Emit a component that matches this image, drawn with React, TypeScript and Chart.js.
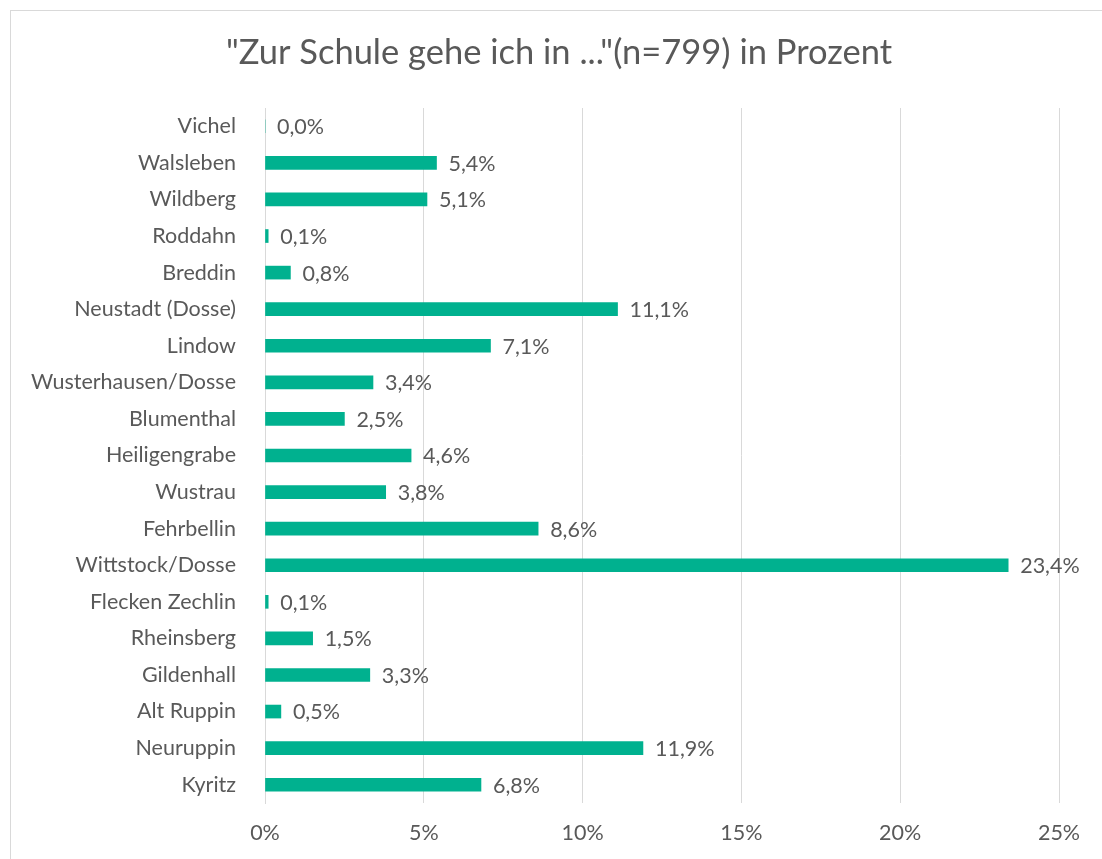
import React, { useEffect, useRef } from "react";
import { Chart, registerables } from "chart.js";

Chart.register(...registerables);

const TITLE = '"Zur Schule gehe ich in ..."(n=799) in Prozent';

const categories: string[] = [
  "Vichel",
  "Walsleben",
  "Wildberg",
  "Roddahn",
  "Breddin",
  "Neustadt (Dosse)",
  "Lindow",
  "Wusterhausen/Dosse",
  "Blumenthal",
  "Heiligengrabe",
  "Wustrau",
  "Fehrbellin",
  "Wittstock/Dosse",
  "Flecken Zechlin",
  "Rheinsberg",
  "Gildenhall",
  "Alt Ruppin",
  "Neuruppin",
  "Kyritz",
];

const values: number[] = [
  0.0, 5.4, 5.1, 0.1, 0.8, 11.1, 7.1, 3.4, 2.5, 4.6, 3.8, 8.6, 23.4, 0.1, 1.5, 3.3, 0.5, 11.9, 6.8,
];

const xTicks: number[] = [0, 5, 10, 15, 20, 25];

const FONT = "Lato, 'Open Sans', sans-serif";
const TEXT = "#595959";
const GRID = "#d9d9d9";
const BAR = "#00B18F";

const framePlugin = {
  id: "frame",
  beforeDraw(chart: any) {
    const ctx = chart.ctx;
    ctx.save();
    ctx.fillStyle = "#ffffff";
    ctx.fillRect(0, 0, chart.width, chart.height);
    ctx.strokeStyle = GRID;
    ctx.lineWidth = 1;
    ctx.strokeRect(10.5, 10.5, chart.width + 20, chart.height + 20);
    ctx.fillStyle = TEXT;
    ctx.font = `34.5px ${FONT}`;
    ctx.textAlign = "center";
    ctx.textBaseline = "middle";
    ctx.fillText(TITLE, 559, 53);
    ctx.restore();
  },
};

const labelPlugin = {
  id: "valueLabels",
  afterDatasetsDraw(chart: any) {
    const ctx = chart.ctx;
    const meta = chart.getDatasetMeta(0);
    const data = chart.data.datasets[0].data as number[];
    ctx.save();
    ctx.fillStyle = TEXT;
    ctx.font = `21.5px ${FONT}`;
    ctx.textAlign = "left";
    ctx.textBaseline = "middle";
    meta.data.forEach((el: any, i: number) => {
      const txt = data[i].toFixed(1).replace(".", ",") + "%";
      ctx.fillText(txt, el.x + 12, el.y + 1);
    });
    ctx.restore();
  },
};

export default function App() {
  const ref = useRef<HTMLCanvasElement | null>(null);

  useEffect(() => {
    if (!ref.current) return;
    const chart = new Chart(ref.current, {
      type: "bar",
      data: {
        labels: categories,
        datasets: [
          {
            data: values,
            backgroundColor: BAR,
            barThickness: 13,
          },
        ],
      },
      options: {
        indexAxis: "y",
        animation: false,
        responsive: false,
        maintainAspectRatio: false,
        layout: { padding: { top: 108, right: 43, left: 0, bottom: 0 } },
        plugins: {
          legend: { display: false },
          tooltip: { enabled: false },
          title: { display: false },
        },
        scales: {
          x: {
            min: 0,
            max: 25,
            afterBuildTicks: (scale: any) => {
              scale.ticks = xTicks.map((v) => ({ value: v }));
            },
            afterFit: (scale: any) => {
              scale.height = 56;
            },
            grid: { color: GRID, lineWidth: 1, drawTicks: false },
            border: { display: false },
            ticks: {
              color: TEXT,
              font: { family: FONT, size: 21.5 },
              padding: 17,
              callback: (v: any) => `${v}%`,
            },
          },
          y: {
            afterFit: (scale: any) => {
              scale.width = 265;
            },
            grid: { display: false, drawTicks: false },
            border: { display: true, color: GRID, width: 1 },
            ticks: {
              color: TEXT,
              font: { family: FONT, size: 21.5 },
              padding: 29,
              autoSkip: false,
            },
          },
        },
      },
      plugins: [framePlugin, labelPlugin],
    });
    return () => chart.destroy();
  }, []);

  return (
    <div style={{ position: "fixed", left: 0, top: 0, width: 1102, height: 859 }}>
      <canvas ref={ref} width={1102} height={859} style={{ width: 1102, height: 859 }} />
    </div>
  );
}
